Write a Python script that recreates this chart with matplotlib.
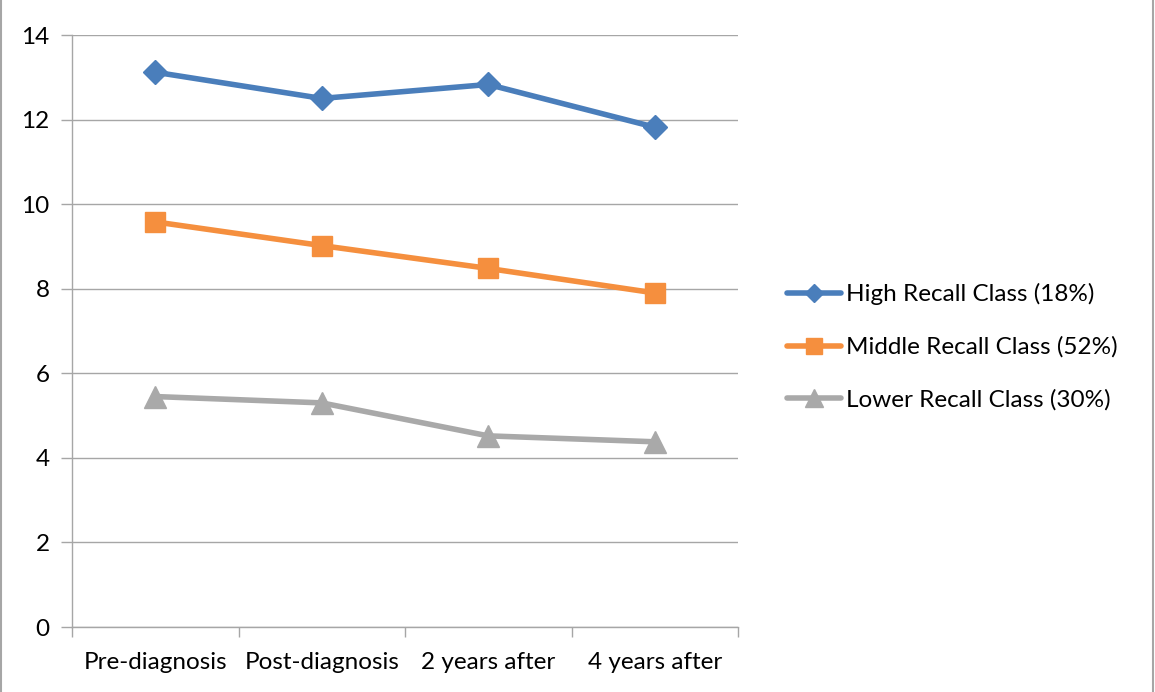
import matplotlib
matplotlib.use("Agg")
import matplotlib.pyplot as plt
from matplotlib.patches import Rectangle

categories = ["Pre-diagnosis", "Post-diagnosis", "2 years after", "4 years after"]
high = [13.12, 12.5, 12.83, 11.82]
middle = [9.58, 9.02, 8.48, 7.9]
lower = [5.45, 5.3, 4.52, 4.38]
series_names = ["High Recall Class (18%)", "Middle Recall Class (52%)", "Lower Recall Class (30%)"]
yticks = [0, 2, 4, 6, 8, 10, 12, 14]

plt.rcParams['font.family'] = ['Lato', 'DejaVu Sans']

fig = plt.figure(figsize=(11.55, 6.92), dpi=100)
ax = fig.add_axes([72/1155, 1-627/692, (738-72)/1155, (627-35)/692])

x = range(len(categories))
styles = [
    (high, "#4A7EBB", "D", 12),
    (middle, "#F58F3E", "s", 15),
    (lower, "#A9A9A9", "^", 16),
]
for (vals, col, mk, ms), name in zip(styles, series_names):
    ax.plot(list(x), vals, color=col, lw=4, marker=mk, markersize=ms,
            markerfacecolor=col, markeredgecolor=col, label=name, solid_capstyle='round')

ax.set_xlim(-0.5, len(categories) - 0.5)
ax.set_ylim(0, 14)
ax.set_yticks(yticks)
ax.set_yticklabels([str(t) for t in yticks])
ax.yaxis.grid(True, color="#A6A6A6", lw=1)
ax.set_axisbelow(True)
ax.set_xticks([i for i in x])
ax.set_xticklabels(categories)
ax.set_xticks([i - 0.5 for i in range(len(categories) + 1)], minor=True)
ax.tick_params(axis='x', which='major', length=0, pad=18, labelsize=17.5)
ax.tick_params(axis='x', which='minor', length=7, color="#A6A6A6", width=1)
ax.tick_params(axis='y', length=8, color="#A6A6A6", width=1, pad=8, labelsize=17.5)
for s in ['top', 'right']:
    ax.spines[s].set_visible(False)
for s in ['left', 'bottom']:
    ax.spines[s].set_color("#A6A6A6")
    ax.spines[s].set_linewidth(1)

leg = fig.legend(loc='center left', bbox_to_anchor=(777/1155, 1-347/692), frameon=False,
                 fontsize=17.5, handlelength=2.25, handletextpad=0.2, labelspacing=1.28,
                 borderaxespad=0, markerscale=0.8)

fig.patches.append(Rectangle((1/1155, -0.01), 1 - 3/1155, 1.02, transform=fig.transFigure,
                             fill=False, edgecolor="#A6A6A6", lw=1.5))

fig.savefig("out.png", dpi=100)
